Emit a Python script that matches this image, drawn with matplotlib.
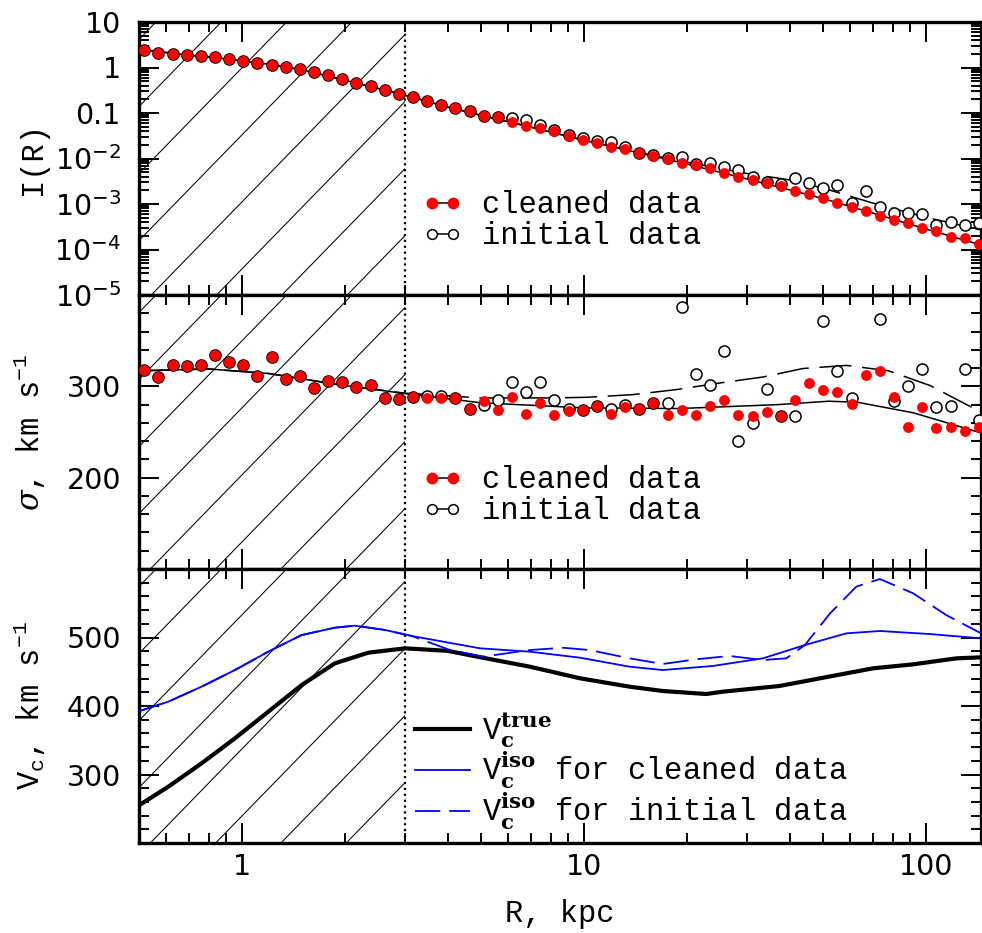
import numpy as np
import matplotlib
matplotlib.use('Agg')
import matplotlib.pyplot as plt
from matplotlib.ticker import FixedLocator, MultipleLocator, LogLocator, FuncFormatter, NullFormatter
from matplotlib.lines import Line2D
from matplotlib.legend_handler import HandlerLine2D
from matplotlib.patches import Rectangle

plt.rcParams['font.family'] = ['DejaVu Sans']
plt.rcParams['mathtext.fontset'] = 'dejavuserif'

LABEL_FONT = 'Liberation Mono'  # 轴标签和图例字体
LABEL_SIZE = 22
TICK_SIZE = 20.5

FIG_W, FIG_H = 982, 933  # 画布像素
AX_LEFT, AX_RIGHT = 139, 981
PANEL_EDGES = [22, 295, 569, 843]  # 三个面板的上下边界(像素)

R_MIN, R_MAX = 0.5, 145
R_CUT = 3.0  # 阴影区域边界

# ---- data: radii of the profile points (kpc) ----
R = [0.518, 0.570, 0.627, 0.689, 0.758, 0.834, 0.917, 1.009, 1.110, 1.221,
     1.343, 1.477, 1.624, 1.787, 1.965, 2.162, 2.378, 2.616, 2.877, 3.165,
     3.481, 3.829, 4.212, 4.633, 5.096, 5.605, 6.165, 6.782, 7.460, 8.204,
     9.025, 9.926, 10.92, 12.01, 13.21, 14.53, 15.98, 17.58, 19.34, 21.27,
     23.39, 25.73, 28.30, 31.13, 34.24, 37.66, 41.43, 45.57, 50.12, 55.13,
     60.64, 66.70, 73.37, 80.70, 88.77, 97.63, 107.4, 118.1, 129.9, 142.9]

# log10 I(R)
logI_clean = [0.385, 0.326, 0.297, 0.275, 0.253, 0.224, 0.194, 0.150, 0.106, 0.062,
              0.018, -0.040, -0.106, -0.165, -0.260, -0.341, -0.413, -0.501, -0.576, -0.648,
              -0.735, -0.824, -0.897, -0.956, -1.059, -1.095, -1.191, -1.286, -1.337, -1.396,
              -1.499, -1.593, -1.667, -1.740, -1.798, -1.886, -1.938, -2.018, -2.106, -2.143,
              -2.216, -2.312, -2.400, -2.473, -2.532, -2.604, -2.708, -2.780, -2.875, -2.985,
              -3.059, -3.154, -3.257, -3.352, -3.411, -3.521, -3.587, -3.719, -3.754, -3.886]
logI_init = [0.385, 0.326, 0.297, 0.275, 0.253, 0.224, 0.194, 0.150, 0.106, 0.062,
             0.018, -0.040, -0.106, -0.165, -0.260, -0.341, -0.413, -0.501, -0.576, -0.648,
             -0.735, -0.824, -0.897, -0.956, -1.059, -1.095, -1.117, -1.154, -1.264, -1.374,
             -1.484, -1.557, -1.608, -1.630, -1.740, -1.872, -1.923, -1.997, -1.960, -2.121,
             -2.106, -2.194, -2.253, -2.400, -2.509, -2.568, -2.422, -2.532, -2.642, -2.582,
             -2.971, -2.714, -3.059, -3.205, -3.205, -3.227, -3.462, -3.389, -3.462, -3.411]

# velocity dispersion, km/s
sig_clean = [318.2, 310.2, 323.7, 321.8, 322.9, 333.8, 326.6, 323.7, 311.7, 332.0,
             308.0, 311.7, 298.3, 306.2, 304.4, 299.3, 301.9, 287.3, 286.2, 288.4,
             287.3, 287.3, 287.3, 275.7, 284.4, 274.6, 288.0, 269.9, 281.8, 268.4,
             272.7, 273.8, 278.2, 270.2, 277.5, 275.7, 281.8, 268.4, 274.6, 268.4,
             278.2, 284.8, 268.4, 268.0, 272.0, 268.0, 284.8, 303.7, 295.7, 293.5,
             280.8, 312.8, 316.4, 288.0, 255.3, 277.5, 253.9, 255.7, 251.0, 255.7]
sig_init = [318.2, 310.2, 323.7, 321.8, 322.9, 333.8, 326.6, 323.7, 311.7, 332.0,
            308.0, 311.7, 298.3, 306.2, 304.4, 299.3, 301.9, 287.3, 286.2, 288.4,
            289.5, 289.0, 287.3, 275.7, 280.0, 284.8, 304.4, 293.5, 304.4, 285.5,
            275.7, 274.6, 278.2, 275.7, 279.3, 275.7, 281.8, 281.8, 387.3, 313.9,
            301.9, 338.2, 240.0, 260.0, 297.1, 268.0, 267.3, np.nan, 372.0, 316.4,
            287.3, np.nan, 373.5, 284.4, 300.0, 319.0, 277.5, 279.0, 319.0, 262.9]

# smooth model curves
fitI_R = [0.5, 0.6, 0.7, 0.85, 1.0, 1.2, 1.5, 2.0, 2.5, 3.0, 4.0, 5.0, 7.0, 10, 15, 20, 30, 40, 50, 70, 100, 145]
fitI_clean = [0.40, 0.33, 0.27, 0.21, 0.15, 0.07, -0.05, -0.28, -0.46, -0.61, -0.87, -1.05, -1.31,
              -1.60, -1.90, -2.12, -2.45, -2.69, -2.88, -3.20, -3.55, -3.90]
fitI_init = [0.40, 0.33, 0.27, 0.21, 0.15, 0.07, -0.05, -0.28, -0.46, -0.61, -0.87, -1.05, -1.31,
             -1.60, -1.89, -2.08, -2.33, -2.47, -2.65, -2.98, -3.29, -3.57]

fitS_R_clean = [0.5, 0.8, 1.2, 1.9, 3.0, 5.0, 10, 19, 37, 52, 63, 92, 145]
fitS_clean = [317, 319, 314, 302, 292, 282, 276.4, 275.7, 280, 283.7, 282.6, 271, 249]
fitS_R_init = [0.5, 0.8, 1.2, 1.9, 3.0, 5.0, 8.1, 10.2, 13.9, 18.6, 25, 33.4, 43.7, 58.6, 77.8, 103, 131.6, 145]
fitS_init = [317, 319, 314, 302, 292.5, 287.3, 287.3, 288, 290.9, 296.4, 303.7, 310.2, 319.5, 322.9,
             317, 300.8, 280, 272]

# circular velocity, km/s
vtrue_R = [0.5, 0.609, 0.762, 0.954, 1.194, 1.495, 1.87, 2.34, 3.0, 4.0, 5.0, 6.95, 9.75,
           13.6, 17.0, 22.8, 25.5, 37.3, 58.6, 70.1, 91.8, 123, 145]
vtrue = [255, 282.2, 316.3, 352.8, 391.7, 430.6, 462.3, 477.8, 484.2, 480.5, 471, 457.4, 440.4,
         428.2, 421.9, 417.5, 420.9, 429.2, 447.7, 455, 460.8, 469.6, 471]
viso_R_clean = [0.5, 0.609, 0.762, 0.954, 1.194, 1.495, 1.87, 2.14, 2.62, 3.14, 4.97, 6.95, 9.75,
                13.6, 17, 23.8, 33.4, 44.3, 58.6, 73.4, 103, 145]
viso_clean = [392.5, 406.3, 428.2, 452.5, 479.3, 503.6, 514.3, 517.3, 511, 502.2, 484.2, 479.3, 470.5,
              457.4, 452.5, 458.4, 469.6, 489, 506.1, 509.5, 505, 498.8]
viso_R_init = [0.5, 0.609, 0.762, 0.954, 1.194, 1.495, 1.87, 2.14, 2.62, 3.14, 4.06, 5.07, 6.95, 8.7,
               10.4, 13.6, 17, 21.3, 26.7, 33.4, 39.1, 44.3, 52.5, 62.6, 73.4, 91.8, 114.7, 145]
viso_init = [392.5, 406.3, 428.2, 452.5, 479.3, 503.6, 514.3, 517.3, 511, 502.2, 481.7, 472, 481.7, 485,
             481.7, 469.6, 461.3, 468.2, 473, 467.1, 469.6, 489, 535.3, 574.2, 585.4, 564.5, 532.8, 506.1]

TOP_TICKLABELS = {10: '10', 1: '1', 0.1: '0.1', 1e-2: r'$\mathregular{10^{-2}}$',
                  1e-3: r'$\mathregular{10^{-3}}$', 1e-4: r'$\mathregular{10^{-4}}$',
                  1e-5: r'$\mathregular{10^{-5}}$'}


def add_hatch(ax, h_px):
    """斜线阴影 R < R_CUT"""
    w_px = AX_RIGHT - AX_LEFT
    xcut = np.log10(R_CUT / R_MIN) / np.log10(R_MAX / R_MIN)
    clip = Rectangle((0, 0), xcut, 1, transform=ax.transAxes, fill=False)
    for k in range(9):
        u_top = 17 + 65.3 * k
        ln, = ax.plot([u_top / w_px, (u_top - 0.974 * h_px) / w_px], [1, 0],
                      transform=ax.transAxes, color='k', lw=0.75, zorder=1)
        ln.set_clip_path(clip)
    ax.axvline(R_CUT, color='k', ls=':', lw=1.6, zorder=2)


def style_axes(ax):
    ax.set_xscale('log')
    ax.set_xlim(R_MIN, R_MAX)
    ax.xaxis.set_major_locator(FixedLocator([1, 10, 100]))
    ax.xaxis.set_minor_locator(LogLocator(base=10, subs=np.arange(2, 10)))
    ax.xaxis.set_minor_formatter(NullFormatter())
    ax.tick_params(which='both', direction='in', top=True, right=True,
                   labelsize=TICK_SIZE, width=1.4)
    ax.tick_params(which='major', length=14.5)
    ax.tick_params(which='minor', length=7.2)
    ax.tick_params(axis='y', pad=13)
    ax.tick_params(axis='x', pad=7.5)
    for s in ax.spines.values():
        s.set_linewidth(2.4)
    ax.yaxis.set_label_coords(-0.108, 0.5)


fig = plt.figure(figsize=(FIG_W / 100, FIG_H / 100), dpi=100)
axes = []
for i in range(3):
    top, bot = PANEL_EDGES[i], PANEL_EDGES[i + 1]
    axes.append(fig.add_axes([AX_LEFT / FIG_W, 1 - bot / FIG_H,
                              (AX_RIGHT - AX_LEFT) / FIG_W, (bot - top) / FIG_H]))
ax1, ax2, ax3 = axes

open_kw = dict(ls='none', marker='o', ms=8, mfc='white', mec='k', mew=1.1, zorder=3)
red_kw = dict(ls='none', marker='o', ms=7.8, mfc='red', mec='none', zorder=4)
leg_handles = [Line2D([], [], color='k', lw=1.1, marker='o', ms=8.5, mfc='red', mec='none'),
               Line2D([], [], color='k', lw=1.1, marker='o', ms=7, mfc='white', mec='k', mew=1.1)]
leg_kw = dict(loc='upper left', frameon=False, borderpad=0, borderaxespad=0,
              handlelength=1.8, handletextpad=0.4, labelspacing=0.03,
              prop={'family': LABEL_FONT, 'size': LABEL_SIZE},
              handler_map={Line2D: HandlerLine2D(numpoints=2, marker_pad=0.55)})

# ---- panel 1: I(R) ----
style_axes(ax1)
add_hatch(ax1, PANEL_EDGES[1] - PANEL_EDGES[0])
ax1.set_yscale('log')
ax1.set_ylim(1e-5, 10)
ax1.yaxis.set_major_locator(FixedLocator(list(TOP_TICKLABELS.keys())))
ax1.yaxis.set_minor_locator(LogLocator(base=10, subs=np.arange(2, 10), numticks=20))
ax1.yaxis.set_minor_formatter(NullFormatter())
ax1.yaxis.set_major_formatter(FuncFormatter(
    lambda v, p: min(TOP_TICKLABELS.items(), key=lambda kv: abs(np.log10(kv[0]) - np.log10(v)))[1]))
ax1.plot(fitI_R, 10 ** np.array(fitI_init), color='k', lw=1.1, ls=(0, (21, 7)), zorder=2)
ax1.plot(fitI_R, 10 ** np.array(fitI_clean), color='k', lw=1.1, zorder=2)
ax1.plot(R, 10 ** np.array(logI_init), **open_kw)
ax1.plot(R, 10 ** np.array(logI_clean), **red_kw)
ax1.tick_params(labelbottom=False)
ax1.set_ylabel('I(R)', family=LABEL_FONT, size=LABEL_SIZE)
ax1.legend(leg_handles, ['cleaned data', 'initial data'], bbox_to_anchor=(0.328, 0.383), **leg_kw)

# ---- panel 2: sigma ----
style_axes(ax2)
add_hatch(ax2, PANEL_EDGES[2] - PANEL_EDGES[1])
ax2.set_ylim(100, 400)
ax2.yaxis.set_major_locator(MultipleLocator(100))
ax2.yaxis.set_minor_locator(MultipleLocator(20))
ax2.yaxis.set_major_formatter(FuncFormatter(lambda v, p: '%d' % v if 150 < v < 350 else ''))
ax2.plot(fitS_R_init, fitS_init, color='k', lw=1.1, ls=(0, (21, 7)), zorder=2)
ax2.plot(fitS_R_clean, fitS_clean, color='k', lw=1.1, zorder=2)
ax2.plot(R, sig_init, **open_kw)
ax2.plot(R, sig_clean, **red_kw)
ax2.tick_params(labelbottom=False)
ax2.set_ylabel(r'$\sigma$, km s$^{\mathregular{-1}}$', family=LABEL_FONT, size=LABEL_SIZE)
ax2.legend(leg_handles, ['cleaned data', 'initial data'], bbox_to_anchor=(0.328, 0.378), **leg_kw)

# ---- panel 3: circular velocity ----
style_axes(ax3)
add_hatch(ax3, PANEL_EDGES[3] - PANEL_EDGES[2])
ax3.set_ylim(200, 600)
ax3.yaxis.set_major_locator(MultipleLocator(100))
ax3.yaxis.set_minor_locator(MultipleLocator(20))
ax3.yaxis.set_major_formatter(FuncFormatter(lambda v, p: '%d' % v if 250 < v < 550 else ''))
ax3.xaxis.set_major_formatter(FuncFormatter(lambda v, p: '%g' % v))
l_true, = ax3.plot(vtrue_R, vtrue, color='k', lw=3.0, zorder=3)
l_clean, = ax3.plot(viso_R_clean, viso_clean, color='#0000ff', lw=1.3, zorder=3)
l_init, = ax3.plot(viso_R_init, viso_init, color='#0000ff', lw=1.3, ls=(0, (14, 5)), zorder=3)
ax3.set_ylabel(r'V$_{\mathregular{c}}$, km s$^{\mathregular{-1}}$', family=LABEL_FONT, size=LABEL_SIZE)
ax3.set_xlabel('R, kpc', family=LABEL_FONT, size=LABEL_SIZE)
ax3.xaxis.set_label_coords(0.5, -0.205)
leg3_kw = dict(leg_kw)
leg3_kw['labelspacing'] = 0.0
leg3_kw.pop('handler_map')
ax3.legend([l_true, l_clean, l_init],
           [r'V$_{\bf c}^{\bf true}$', r'V$_{\bf c}^{\bf iso}$ for cleaned data',
            r'V$_{\bf c}^{\bf iso}$ for initial data'],
           bbox_to_anchor=(0.328, 0.485), **leg3_kw)

fig.savefig('out.png', dpi=100)
